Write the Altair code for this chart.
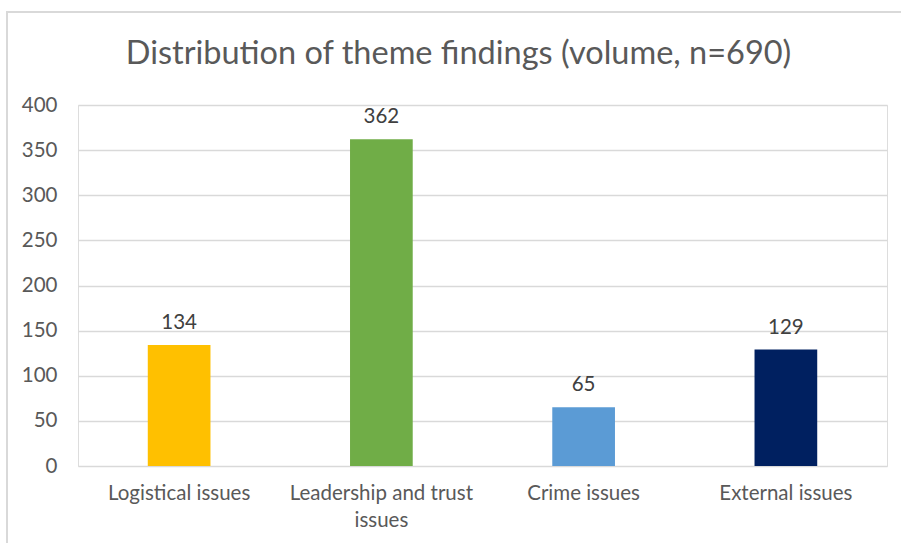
import altair as alt
import pandas as pd

categories = ["Logistical issues", "Leadership and trust issues", "Crime issues", "External issues"]
values = [134, 362, 65, 129]
colors = ["#FFC000", "#70AD47", "#5B9BD5", "#002060"]

df = pd.DataFrame({"theme": categories, "count": values})

FONT = "Lato"

x = alt.X(
    "theme:N",
    sort=categories,
    title=None,
    scale=alt.Scale(paddingInner=0.69, paddingOuter=0.345),
    axis=alt.Axis(
        labelAngle=0,
        labelFont=FONT,
        labelFontSize=20.5,
        labelColor="#595959",
        labelPadding=17,
        labelLineHeight=27,
        labelLimit=300,
        ticks=False,
        domain=False,
        grid=False,
        labelExpr="datum.label == 'Leadership and trust issues' ? ['Leadership and trust', 'issues'] : datum.label",
    ),
)
y = alt.Y(
    "count:Q",
    title=None,
    scale=alt.Scale(domain=[0, 400]),
    axis=alt.Axis(
        values=[0, 50, 100, 150, 200, 250, 300, 350, 400],
        labelFont=FONT,
        labelFontSize=20.5,
        labelColor="#595959",
        labelPadding=21,
        ticks=False,
        domain=False,
        gridColor="#D9D9D9",
        gridWidth=1.5,
    ),
)

bars = alt.Chart(df).mark_bar().encode(
    x=x,
    y=y,
    color=alt.Color("theme:N", scale=alt.Scale(domain=categories, range=colors), legend=None),
)

labels = alt.Chart(df).mark_text(
    baseline="alphabetic", dy=-16, font=FONT, fontSize=20.5, color="#404040"
).encode(x=x, y=y, text="count:Q")

border = alt.Chart(pd.DataFrame({"a": [0]})).mark_rect(
    fill=None, stroke="#D9D9D9", strokeWidth=2, clip=False
).encode(
    x=alt.value(-71), x2=alt.value(835), y=alt.value(-93), y2=alt.value(445)
)

chart = alt.layer(border, bars, labels).properties(
    width=809,
    height=361,
    autosize=alt.AutoSizeParams(type="none"),
    padding={"left": 78, "top": 105, "right": 14, "bottom": 77},
    title=alt.TitleParams(
        "Distribution of theme findings (volume, n=690)",
        font=FONT,
        fontSize=32.5,
        fontWeight="normal",
        color="#595959",
        anchor="middle",
        baseline="alphabetic",
        offset=0,
        dy=85,
        dx=-24,
    ),
).configure_view(stroke=None).configure(background="white")

chart.save("out.html", embed_options={"renderer": "svg", "actions": False})
